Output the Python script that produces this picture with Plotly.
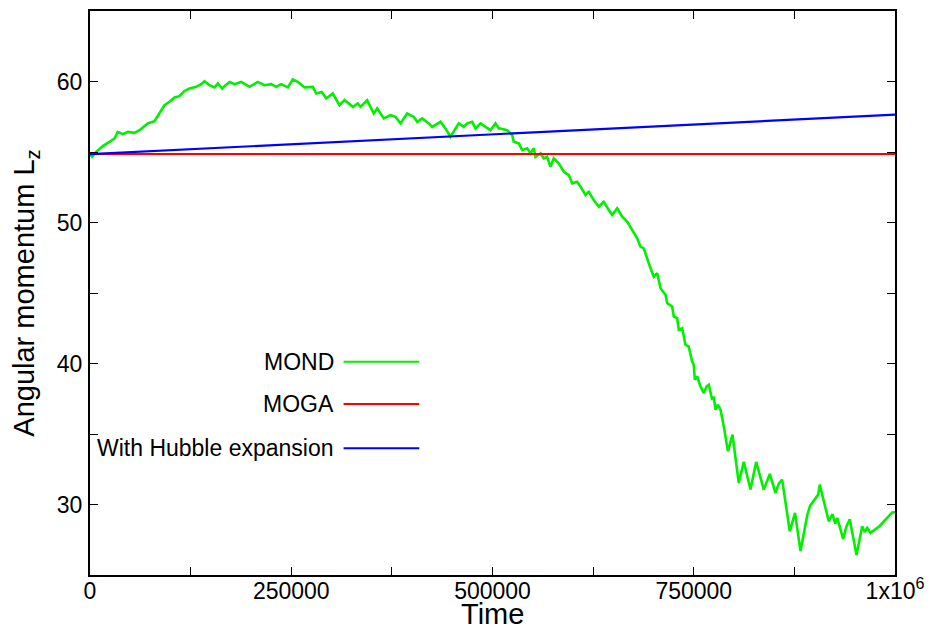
import plotly.graph_objects as go

# ---- data ----
mond_t = [0, 2700, 7700, 15900, 24200, 30400, 34500, 40700, 47000, 55300, 61500, 65600, 71800,
          80100, 86300, 92500, 98800, 105000, 111200, 117400, 123600, 131900, 138100, 142200,
          148400, 154700, 158800, 164200, 167100, 173300, 179500, 187800, 198100, 208400, 216800,
          225100, 231300, 237500, 245700, 251900, 258100, 266500, 276800, 281000, 287900, 293400,
          301600, 309900, 316100, 326500, 332700, 336000, 344300, 352500, 356800, 365000, 373300,
          379500, 385700, 394000, 402200, 406500, 412700, 420900, 425100, 435400, 441600, 447800,
          458100, 464300, 468600, 474800, 478900, 485100, 491300, 497500, 503700, 507800, 509900,
          518200, 524500, 526400, 532700, 536900, 543100, 547200, 551300, 553400, 559600, 563700,
          567900, 572000, 576100, 582300, 588600, 594800, 599000, 605200, 609300, 615500, 619600,
          625800, 632000, 638200, 644500, 648700, 654900, 661100, 667300, 673500, 679700, 683800,
          687900, 694100, 700300, 704600, 708700, 714900, 717000, 723200, 725200, 729400, 731400,
          735600, 739700, 743800, 748000, 750000, 751300, 754300, 758400, 762500, 765800, 768700,
          772900, 774900, 777000, 779900, 783300, 787300, 792500, 798100, 805900, 812200, 820500,
          827500, 837000, 844500, 851500, 855600, 859800, 869300, 875800, 882600, 890900, 894600,
          899100, 904600, 906500, 909600, 917700, 922300, 925700, 928200, 935600, 939700, 943800,
          952200, 959200, 962300, 965400, 969500, 980700, 989400, 996500, 1000000]
mond_l = [54.85, 54.66, 55.01, 55.42, 55.72, 55.96, 56.43, 56.27, 56.43, 56.36, 56.55, 56.74, 57.03,
          57.19, 57.73, 58.32, 58.56, 58.87, 58.96, 59.33, 59.50, 59.62, 59.81, 60.02,
          59.74, 59.58, 59.86, 59.50, 59.67, 59.97, 59.81, 59.97, 59.62, 59.97, 59.74,
          59.81, 59.62, 59.81, 59.58, 60.14, 59.97, 59.58, 59.62, 59.15, 59.26, 58.80,
          59.15, 58.32, 58.68, 58.20, 58.44, 58.20, 58.68, 57.73, 58.09, 57.38, 57.61,
          57.49, 57.03, 57.73, 57.49, 57.14, 57.38, 57.03, 56.78, 57.14, 56.67, 56.08,
          57.03, 56.78, 57.03, 57.14, 56.67, 57.03, 56.78, 56.55, 57.03, 56.67, 56.67,
          56.55, 56.20, 55.72, 55.61, 55.13, 55.26, 54.90, 55.26, 54.66, 54.90, 54.55,
          54.66, 53.95, 54.55, 54.19, 53.60, 53.36, 52.78, 52.89, 52.54, 51.95, 52.18,
          51.59, 51.12, 51.47, 50.89, 50.53, 51.01, 50.41, 50.06, 49.47, 48.88, 48.29,
          48.17, 47.11, 46.16, 46.40, 45.34, 44.87, 44.28, 44.04, 43.33, 43.22, 42.39,
          42.51, 41.33, 41.20, 40.14, 39.91, 38.85, 39.08, 38.37, 37.90, 38.37, 38.49,
          37.43, 37.66, 36.72, 37.08, 36.72, 35.54, 33.77, 34.95, 31.53, 33.02, 31.06,
          33.02, 31.06, 32.17, 30.82, 31.48, 31.76, 28.10, 29.41, 26.69, 29.21, 29.92,
          30.28, 30.70, 31.41, 30.63, 28.81, 29.31, 28.65, 29.05, 27.56, 28.44, 28.95,
          26.42, 28.46, 28.05, 28.34, 27.99, 28.46, 29.00, 29.43, 29.45]

moga_t = [0, 1000000]
moga_l = [54.85, 54.85]

hubble_t = [0, 1000000]
hubble_l = [54.85, 57.65]

x_tickvals = [0, 250000, 500000, 750000, 1000000]
x_ticktext = ["0", "250000", "500000", "750000", "1x10<sup>6</sup>"]
x_minorvals = [125000, 375000, 625000, 875000]
y_tickvals = [30, 40, 50, 60]
y_ticktext = ["30", "40", "50", "60"]
y_minorvals = [25, 35, 45, 55, 65]

series_names = ["MOND", "MOGA", "With Hubble expansion"]
series_colors = ["#00f000", "#ff0000", "#0000ff"]

FONT = "Liberation Sans, Arial, Helvetica, sans-serif"

fig = go.Figure()
fig.add_trace(go.Scatter(x=mond_t, y=mond_l, mode="lines", name=series_names[0],
                         line=dict(color=series_colors[0], width=2.6)))
fig.add_trace(go.Scatter(x=moga_t, y=moga_l, mode="lines", name=series_names[1],
                         line=dict(color=series_colors[1], width=2)))
fig.add_trace(go.Scatter(x=hubble_t, y=hubble_l, mode="lines", name=series_names[2],
                         line=dict(color=series_colors[2], width=2.2)))

# gnuplot-style legend: right-aligned text, sample line to its right
leg_y = [0.378, 0.303, 0.2246]
for name, color, yy in zip(series_names, series_colors, leg_y):
    fig.add_annotation(x=0.305, y=yy, xref="paper", yref="paper", text=name,
                       showarrow=False, xanchor="right", yanchor="middle",
                       font=dict(family=FONT, size=23, color="black"))
    fig.add_shape(type="line", xref="paper", yref="paper", x0=0.315, x1=0.409,
                  y0=yy, y1=yy, line=dict(color=color, width=2))

# x-axis title as an annotation so it can sit a little below the tick labels
fig.add_annotation(x=0.5, y=-0.070, xref="paper", yref="paper", text="Time",
                   showarrow=False, xanchor="center", yanchor="middle", borderpad=0,
                   font=dict(family=FONT, size=29, color="black"))

axis_common = dict(showgrid=False, zeroline=False, showline=True, linecolor="black",
                   linewidth=2, mirror="ticks", ticks="inside", ticklen=8,
                   tickwidth=1, tickcolor="black", automargin=False,
                   tickfont=dict(family=FONT, size=23, color="black"))

fig.update_xaxes(range=[0, 1000000], tickvals=x_tickvals, ticktext=x_ticktext,
                 minor=dict(tickvals=x_minorvals, ticks="inside", ticklen=8, tickwidth=1,
                            tickcolor="black", showgrid=False),
                 ticklabelstandoff=-6, **axis_common)
fig.update_yaxes(range=[25, 65], tickvals=y_tickvals, ticktext=y_ticktext,
                 minor=dict(tickvals=y_minorvals, ticks="inside", ticklen=8, tickwidth=1,
                            tickcolor="black", showgrid=False),
                 title=dict(text="Angular momentum L<sub>z</sub>",
                            font=dict(family=FONT, size=29, color="black"), standoff=22),
                 ticklabelstandoff=1, **axis_common)

# page body has an 8px margin, so the figure is sized to fit inside the window
fig.update_layout(width=925, height=622, plot_bgcolor="white", paper_bgcolor="white",
                  showlegend=False, margin=dict(l=82, r=38, t=3, b=55),
                  font=dict(family=FONT, color="black"))

fig.write_html("out.html")
